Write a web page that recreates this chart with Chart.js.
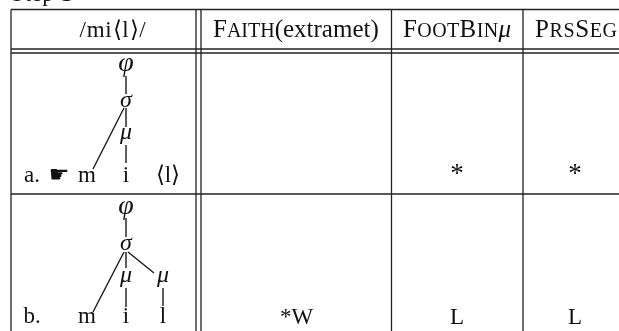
<!DOCTYPE html>
<html>
<head>
<meta charset="utf-8">
<style>
  html, body { margin: 0; padding: 0; background: #fff; }
  #box { width: 619px; height: 331px; }
</style>
<script src="https://cdn.jsdelivr.net/npm/chart.js@4"></script>
</head>
<body>
<div id="box"><canvas id="tableau"></canvas></div>
<script>
// table rules (x, y in picture units)
const ruleColumns = [11, 196, 201, 391.5, 523];
const ruleRows = [9.5, 49, 53, 194];
const tableBottom = 331;

// tree branches: [x1, y1, x2, y2]
const branchesA = [
  [126, 76, 126, 94], [126, 108, 126, 127], [126, 145, 126, 163],
  [124, 108, 93, 169]
];
const branchesB = [
  [126, 218, 126, 237], [126, 252, 126, 268], [126, 288, 126, 307],
  [124, 252, 93, 312], [128, 252, 154, 273], [163, 288, 163, 306]
];

// text: [string, x, baseline y]
const captions = [['Step 1', 42, 1]];
const headInput = [['/mi⟨l⟩/', 113, 37]];
const treeRoman = [
  ['a.', 32, 182], ['m', 87, 182], ['i', 126, 182], ['⟨l⟩', 168, 182],
  ['b.', 32, 323], ['m', 87, 323], ['i', 126, 323], ['l', 163, 323],
  ['*W', 296.5, 324], ['L', 457, 324], ['L', 575, 324]
];
const stars = [['*', 457, 182], ['*', 575, 182]];
const treeGreek = [
  ['σ', 126, 107], ['μ', 126, 139],
  ['σ', 126, 250], ['μ', 126, 282], ['μ', 163, 282]
];
const treeRoots = [['φ', 126, 71], ['φ', 126, 214]];
const hands = [['☛', 59, 182]];

// small caps headers: [piece, isSmall]
const headFaith = [['F', 0], ['AITH', 1], ['(extramet)', 0]];
const headFoot = [['F', 0], ['OOT', 1], ['B', 0], ['IN', 1]];
const headPrs = [['P', 0], ['RS', 1], ['S', 0], ['EG', 1]];

const serif = '"Liberation Serif"';

const ruleSets = [];
ruleColumns.forEach(x => ruleSets.push([x, ruleRows[0], x, tableBottom]));
ruleRows.forEach(y => ruleSets.push([ruleColumns[0], y, 619, y]));

function lineSet(seg, color, width) {
  return {
    data: [{ x: seg[0], y: seg[1] }, { x: seg[2], y: seg[3] }],
    showLine: true,
    borderColor: color,
    borderWidth: width,
    pointRadius: 0
  };
}

// writes the labels through the chart's own scales
const tableText = {
  id: 'tableText',
  afterDatasetsDraw(chart) {
    const { ctx, scales: { x, y } } = chart;
    ctx.textBaseline = 'alphabetic';
    ctx.fillStyle = '#111';
    const put = (list, font, spacing) => {
      ctx.font = font;
      ctx.letterSpacing = spacing + 'px';
      ctx.textAlign = 'center';
      list.forEach(t => ctx.fillText(t[0], x.getPixelForValue(t[1]), y.getPixelForValue(t[2])));
    };
    const caps = (pieces, startX, baseY, spacing) => {
      ctx.textAlign = 'left';
      ctx.letterSpacing = spacing + 'px';
      let px = x.getPixelForValue(startX);
      pieces.forEach(p => {
        ctx.font = (p[1] ? 20 : 25) + 'px ' + serif;
        ctx.fillText(p[0], px, y.getPixelForValue(baseY));
        px += ctx.measureText(p[0]).width;
      });
      return px;
    };
    put(captions, '23px ' + serif, 0.5);
    put(headInput, '23px ' + serif, 0.8);
    put(treeRoman, '23px ' + serif, 0);
    put(stars, '27px ' + serif, 0);
    put(treeGreek, 'italic 24px ' + serif, 0);
    put(treeRoots, 'italic 28px ' + serif, 0);
    put(hands, '23px "DejaVu Sans"', 0);
    caps(headFaith, 213, 37, 0);
    const end = caps(headFoot, 403, 37, 0.4);
    ctx.font = 'italic 25px ' + serif;
    ctx.textAlign = 'left';
    ctx.fillText('μ', end, y.getPixelForValue(37));
    caps(headPrs, 535, 37, 0.6);
  }
};

new Chart(document.getElementById('tableau'), {
  type: 'scatter',
  data: {
    datasets: [
      ...ruleSets.map(s => lineSet(s, '#222', 1.3)),
      ...branchesA.map(s => lineSet(s, '#1a1a1a', 1.4)),
      ...branchesB.map(s => lineSet(s, '#1a1a1a', 1.4))
    ]
  },
  options: {
    responsive: true,
    maintainAspectRatio: false,
    animation: false,
    layout: { padding: 0 },
    plugins: { legend: { display: false }, tooltip: { enabled: false } },
    scales: {
      x: { type: 'linear', min: 0, max: 619, display: false },
      y: { type: 'linear', min: 0, max: 331, reverse: true, display: false }
    }
  },
  plugins: [tableText]
});
</script>
</body>
</html>
